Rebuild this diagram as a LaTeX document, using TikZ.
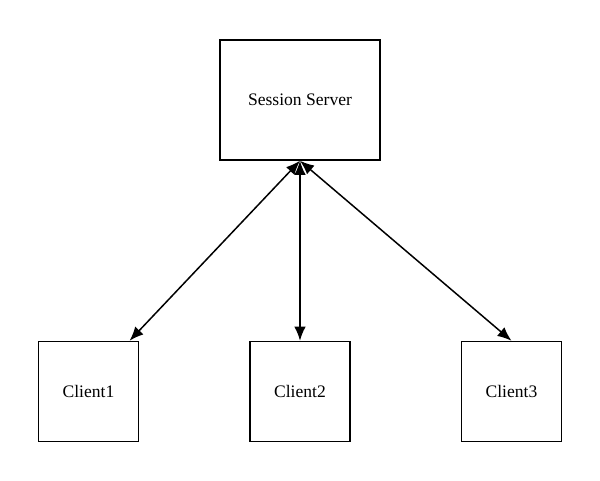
\documentclass[tikz,border=0pt]{standalone}
\usepackage{fontspec}
\setmainfont{Liberation Serif}
\usetikzlibrary{positioning,arrows.meta}
\begin{document}
\begin{tikzpicture}[>={Latex[length=8pt,width=6.5pt]},semithick,line width=0.85pt,node distance=2.2cm,font=\fontsize{10}{12}\selectfont]
\tikzset{
  server/.style={draw,minimum width=3.2cm,minimum height=2.4cm},
  client/.style={draw,minimum width=2cm,minimum height=2cm}
}
\useasboundingbox (-6,-7.6) rectangle (6,2);
\node[server] (srv) at (0,0) {Session Server};
\node[client,below=3.6cm of srv] (c2) {Client2};
\node[client,left=of c2] (c1) {Client1};
\node[client,right=of c2] (c3) {Client3};
\draw[<->] (srv.south) -- (c1.51);
\draw[<->] (srv.south) -- (c2.north);
\draw[<->] (srv.south) -- (c3.north);
\end{tikzpicture}
\end{document}
